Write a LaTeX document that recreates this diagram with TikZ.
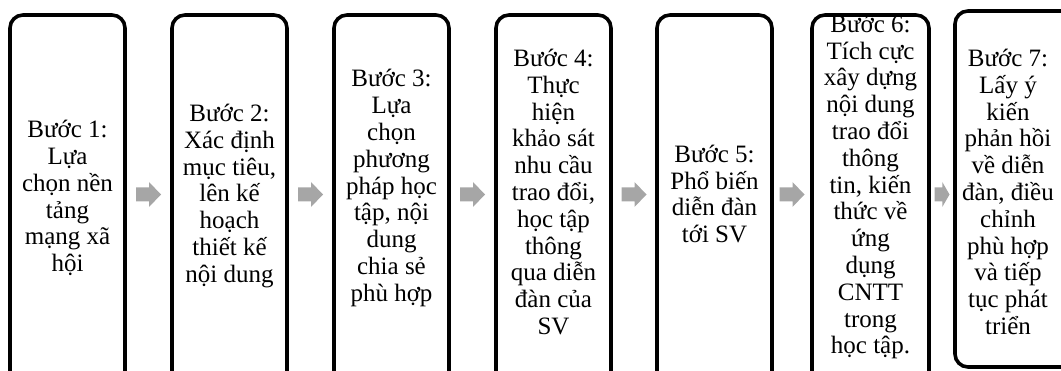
\documentclass[tikz,border=0pt]{standalone}
\usepackage{fontspec}
\setmainfont{Liberation Serif}
\definecolor{arrowgray}{HTML}{A6A6A6}
\tikzset{
  stepbox/.style={draw=black, line width=3.6pt, rounded corners=13pt, minimum width=115pt, inner sep=0pt},
  steptext/.style={align=center, inner sep=0pt, font=\fontsize{25}{26.8}\selectfont},
  blockarrow/.pic={\fill[arrowgray] (-12.5,-7) -- (0.5,-7) -- (0.5,-12.5) -- (12.5,0) -- (0.5,12.5) -- (0.5,7) -- (-12.5,7) -- cycle;}
}
\begin{document}
\begin{tikzpicture}[x=1pt,y=1pt]
\useasboundingbox (0,0) rectangle (1061,370);
\clip (0,0) rectangle (1061,370);
\coordinate (ay) at (0,175.5);
% boxes
\node[stepbox, minimum height=370pt] (b1) at (67.5,170) {};
\node[stepbox, minimum height=370pt] (b2) at (229.5,170) {};
\node[stepbox, minimum height=370pt] (b3) at (391.5,170) {};
\node[stepbox, minimum height=370pt] (b4) at (553.5,170) {};
\node[stepbox, minimum height=370pt] (b5) at (714.5,170) {};
\node[stepbox, minimum height=370pt, minimum width=117pt] (b6) at (870.5,170) {};
\node[stepbox, minimum height=356pt, minimum width=125pt] (b7) at (1017.5,181) {};
% texts
\node[steptext] (t1) at (b1 |- 0,172) {Bước 1:\\Lựa\\chọn nền\\tảng\\mạng xã\\hội};
\node[steptext] (t2) at (b2 |- 0,174) {Bước 2:\\Xác định\\mục tiêu,\\lên kế\\hoạch\\thiết kế\\nội dung};
\node[steptext] (t3) at (b3 |- 0,182) {Bước 3:\\Lựa\\chọn\\phương\\pháp học\\tập, nội\\dung\\chia sẻ\\phù hợp};
\node[steptext] (t4) at (b4 |- 0,178) {Bước 4:\\Thực\\hiện\\khảo sát\\nhu cầu\\trao đổi,\\học tập\\thông\\qua diễn\\đàn của\\SV};
\node[steptext] (t5) at (b5 |- 0,176) {Bước 5:\\Phổ biến\\diễn đàn\\tới SV};
\node[steptext] (t6) at (b6 |- 0,183) {Bước 6:\\Tích cực\\xây dựng\\nội dung\\trao đổi\\thông\\tin, kiến\\thức về\\ứng\\dụng\\CNTT\\trong\\học tập.};
\node[steptext] (t7) at (1008,178) {Bước 7:\\Lấy ý\\kiến\\phản hồi\\về diễn\\đàn, điều\\chỉnh\\phù hợp\\và tiếp\\tục phát\\triển};
% arrows
\path (b1.east |- ay) -- (b2.west |- ay) pic[pos=0.5] {blockarrow};
\path (b2.east |- ay) -- (b3.west |- ay) pic[pos=0.5] {blockarrow};
\path (b3.east |- ay) -- (b4.west |- ay) pic[pos=0.5] {blockarrow};
\path (b4.east |- ay) -- (b5.west |- ay) pic[pos=0.5] {blockarrow};
\path (b5.east |- ay) -- (b6.west |- ay) pic[pos=0.5] {blockarrow};
\path (b6.east |- ay) -- (b7.west |- ay) pic[pos=0.5, xscale=0.6] {blockarrow};
\end{tikzpicture}
\end{document}
